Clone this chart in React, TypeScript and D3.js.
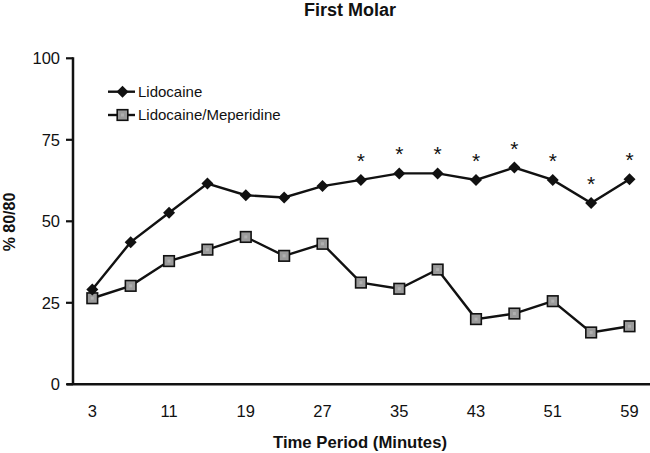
import React from "react";
import * as d3 from "d3";

const times = [3, 7, 11, 15, 19, 23, 27, 31, 35, 39, 43, 47, 51, 55, 59];
const lidocaine = [29.1, 43.6, 52.6, 61.6, 58.0, 57.3, 60.8, 62.7, 64.7, 64.7, 62.7, 66.5, 62.7, 55.6, 62.9];
const lidoMeperidine = [26.4, 30.2, 37.8, 41.3, 45.2, 39.4, 43.1, 31.2, 29.3, 35.2, 20.0, 21.7, 25.5, 15.9, 17.8];
const significant = [false, false, false, false, false, false, false, true, true, true, true, true, true, true, true];
const xTicks = [3, 11, 19, 27, 35, 43, 51, 59];
const yTicks = [0, 25, 50, 75, 100];
const seriesNames = ["Lidocaine", "Lidocaine/Meperidine"];

const W = 650;
const H = 453;
const FONT = "'Liberation Sans', Arial, sans-serif";

export default function App() {
  const x = d3.scaleLinear().domain([3, 59]).range([92.3, 629.5]);
  const y = d3.scaleLinear().domain([0, 100]).range([384.3, 58.3]);
  const line = d3
    .line<number>()
    .x((_, i) => x(times[i]))
    .y((d) => y(d));

  const diamond = (cx: number, cy: number, r = 6) =>
    `M${cx},${cy - r}L${cx + r},${cy}L${cx},${cy + r}L${cx - r},${cy}Z`;

  const Square = ({ cx, cy }: { cx: number; cy: number }) => (
    <g>
      <rect x={cx - 5.3} y={cy - 5.3} width={10.6} height={10.6} fill="#9a9a9a" stroke="#111" strokeWidth={1.6} />
      <rect x={cx - 1.5} y={cy - 1.5} width={3} height={3} fill="#b0b0b0" />
    </g>
  );

  const axisX0 = 67;
  const axisY = y(0);
  const yAxisX = 73;

  return (
    <svg width={W} height={H} style={{ position: "absolute", left: 0, top: 0, background: "#fff" }} fontFamily={FONT}>
      <rect width={W} height={H} fill="#fff" />
      <text x={350} y={16} textAnchor="middle" fontWeight="bold" fontSize={18} fill="#111">
        First Molar
      </text>

      {/* Y axis */}
      <line x1={yAxisX} x2={yAxisX} y1={y(100) - 1} y2={axisY} stroke="#111" strokeWidth={2.5} />
      {yTicks.map((t) => (
        <g key={t}>
          <line x1={66} x2={yAxisX} y1={y(t)} y2={y(t)} stroke="#111" strokeWidth={2.2} />
          <text x={60} y={y(t)} dy="0.36em" textAnchor="end" fontSize={16.5} fill="#111">
            {t}
          </text>
        </g>
      ))}
      {/* X axis */}
      <line x1={axisX0} x2={W} y1={axisY} y2={axisY} stroke="#111" strokeWidth={2.5} />
      {xTicks.map((t) => (
        <text key={t} x={x(t)} y={417} textAnchor="middle" fontSize={16.5} fill="#111">
          {t}
        </text>
      ))}

      <text x={360} y={448} textAnchor="middle" fontWeight="bold" fontSize={16.7} fill="#111">
        Time Period (Minutes)
      </text>
      <text
        transform={`translate(15,222) rotate(-90)`}
        textAnchor="middle"
        fontWeight="bold"
        fontSize={16}
        fill="#111"
      >
        % 80/80
      </text>

      {/* Lines */}
      <path d={line(lidoMeperidine) || ""} fill="none" stroke="#111" strokeWidth={2.4} />
      <path d={line(lidocaine) || ""} fill="none" stroke="#111" strokeWidth={2.4} />

      {lidoMeperidine.map((v, i) => (
        <Square key={"m" + i} cx={x(times[i])} cy={y(v)} />
      ))}
      {lidocaine.map((v, i) => (
        <path key={"l" + i} d={diamond(x(times[i]), y(v))} fill="#111" />
      ))}

      {lidocaine.map((v, i) =>
        significant[i] ? (
          <text key={"s" + i} x={x(times[i])} y={y(v) - 12} textAnchor="middle" fontSize={21} fill="#111">
            *
          </text>
        ) : null
      )}

      {/* Legend */}
      <g>
        <line x1={108} x2={135} y1={91.7} y2={91.7} stroke="#111" strokeWidth={2.4} />
        <path d={diamond(122.5, 91.7)} fill="#111" />
        <text x={138} y={91.7} dy="0.36em" fontSize={15} fill="#111">
          {seriesNames[0]}
        </text>
        <line x1={108} x2={135} y1={115} y2={115} stroke="#111" strokeWidth={2.4} />
        <Square cx={122.5} cy={115} />
        <text x={138} y={115} dy="0.36em" fontSize={15} fill="#111">
          {seriesNames[1]}
        </text>
      </g>
    </svg>
  );
}
